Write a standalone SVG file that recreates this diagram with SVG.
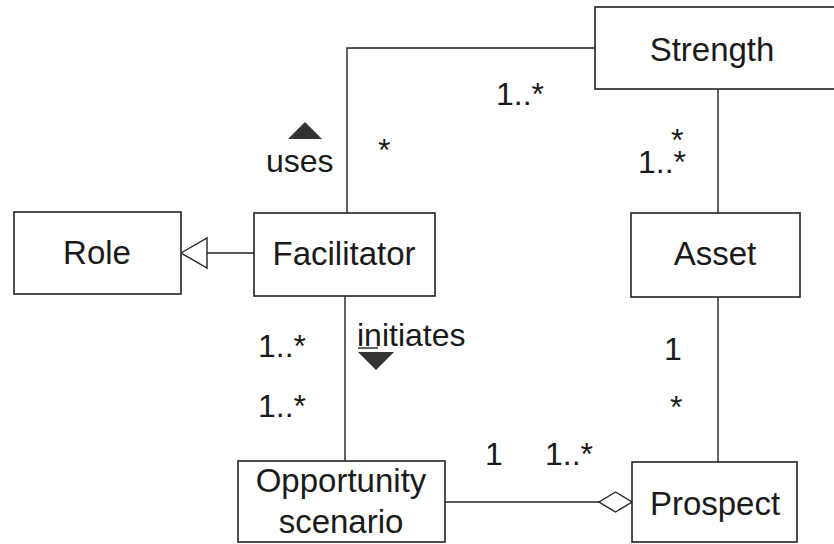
<svg xmlns="http://www.w3.org/2000/svg" width="834" height="544" viewBox="0 0 834 544">
  <style>
    .box { fill: #fff; stroke: #222; stroke-width: 1.6; }
    .line { fill: none; stroke: #222; stroke-width: 1.4; }
    .name { font-family: "Liberation Sans", Arial, sans-serif; font-size: 33px; fill: #1a1a1a; text-anchor: middle; }
    .lbl { font-family: "Liberation Sans", Arial, sans-serif; font-size: 32px; fill: #1a1a1a; }
    .dir { fill: #333; }
  </style>
  <rect width="834" height="544" fill="#fff"/>

  <g id="connectors">
    <!-- Facilitator to Strength (uses) -->
    <polyline class="line" points="347,213 347,48 595,48"/>
    <!-- Strength to Asset -->
    <line class="line" x1="718" y1="89" x2="718" y2="213"/>
    <!-- Facilitator generalises Role -->
    <line class="line" x1="207" y1="253" x2="254" y2="253"/>
    <polygon class="line" fill="#fff" points="181,253 207,238 207,268"/>
    <!-- Facilitator to Opportunity scenario (initiates) -->
    <line class="line" x1="345" y1="296" x2="345" y2="461"/>
    <!-- Asset to Prospect -->
    <line class="line" x1="718" y1="297" x2="718" y2="462"/>
    <!-- Opportunity scenario to Prospect, aggregation -->
    <line class="line" x1="445" y1="502" x2="599" y2="502"/>
    <polygon class="line" fill="#fff" points="599,502 615.5,492 632,502 615.5,512"/>

    <!-- association direction markers -->
    <polygon class="dir" points="305,122 288,139 322,139"/>
    <polygon class="dir" points="358,352 394,352 376,370"/>

    <!-- association labels and multiplicities -->
    <text class="lbl" x="266" y="172">uses</text>
    <text class="lbl" x="378" y="161">*</text>
    <text class="lbl" x="496" y="105">1..*</text>
    <text class="lbl" x="671" y="151">*</text>
    <text class="lbl" x="638" y="173">1..*</text>
    <text class="lbl" x="258" y="357">1..*</text>
    <text class="lbl" x="258" y="417">1..*</text>
    <text class="lbl" x="357" y="346">initiates</text>
    <line class="line" x1="358" y1="348" x2="378" y2="348"/>
    <text class="lbl" x="664" y="360">1</text>
    <text class="lbl" x="670" y="418">*</text>
    <text class="lbl" x="485" y="465">1</text>
    <text class="lbl" x="545" y="465">1..*</text>
  </g>

  <g id="strength">
    <rect class="box" x="595" y="7" width="250" height="82"/>
    <text class="name" x="712" y="61">Strength</text>
  </g>
  <g id="role">
    <rect class="box" x="14" y="212" width="167" height="82"/>
    <text class="name" x="97" y="264">Role</text>
  </g>
  <g id="facilitator">
    <rect class="box" x="254" y="213" width="181" height="83"/>
    <text class="name" x="344" y="265">Facilitator</text>
  </g>
  <g id="asset">
    <rect class="box" x="631" y="213" width="169" height="84"/>
    <text class="name" x="715" y="265">Asset</text>
  </g>
  <g id="opportunity-scenario">
    <rect class="box" x="238" y="461" width="207" height="81"/>
    <text class="name" x="341" y="492">Opportunity</text>
    <text class="name" x="341" y="533">scenario</text>
  </g>
  <g id="prospect">
    <rect class="box" x="632" y="462" width="165" height="80"/>
    <text class="name" x="715" y="515">Prospect</text>
  </g>
</svg>
